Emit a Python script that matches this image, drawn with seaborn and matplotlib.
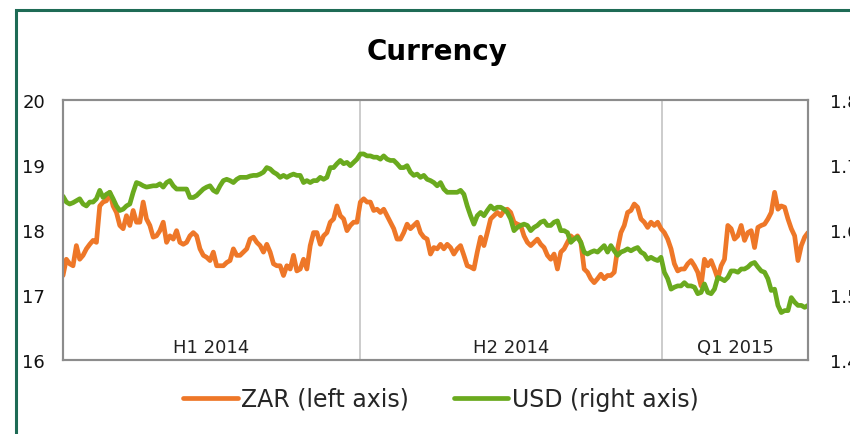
import pandas as pd
import seaborn as sns
import matplotlib.pyplot as plt
import matplotlib.patches as patches
import matplotlib.transforms as mtransforms
import matplotlib.ticker as ticker

# values, roughly every two days from Jan 2014 to end of Mar 2015
zar = [
    17.30, 17.55, 17.48, 17.45, 17.76, 17.55, 17.61, 17.71, 17.78, 17.84,
    17.81, 18.37, 18.43, 18.45, 18.58, 18.37, 18.27, 18.07, 18.02, 18.22,
    18.07, 18.30, 18.12, 18.12, 18.43, 18.17, 18.07, 17.89, 17.91, 17.99,
    18.12, 17.81, 17.91, 17.86, 17.99, 17.81, 17.78, 17.81, 17.91, 17.96,
    17.91, 17.71, 17.61, 17.58, 17.53, 17.66, 17.45, 17.45, 17.45, 17.50,
    17.53, 17.71, 17.61, 17.61, 17.66, 17.71, 17.86, 17.89, 17.81, 17.76,
    17.66, 17.78, 17.66, 17.48, 17.45,
    17.45, 17.30, 17.45, 17.40, 17.61, 17.37, 17.40, 17.55, 17.40, 17.76,
    17.96, 17.96, 17.78, 17.91, 17.96, 18.12, 18.17, 18.37, 18.22, 18.17,
    17.99, 18.07, 18.12, 18.12, 18.43, 18.48, 18.43, 18.43, 18.30, 18.32,
    18.27, 18.32, 18.22, 18.12, 18.02, 17.86, 17.86, 17.96, 18.09, 18.02,
    18.07, 18.12, 17.96, 17.89, 17.86, 17.63, 17.73, 17.71, 17.78, 17.71,
    17.78, 17.73, 17.63, 17.71, 17.76, 17.61, 17.45, 17.43, 17.40, 17.66,
    17.89, 17.76, 17.96, 18.17, 18.22, 18.27, 18.22, 18.30, 18.32, 18.27,
    18.12, 18.09, 18.07, 17.91, 17.81, 17.76, 17.81, 17.86, 17.78, 17.73,
    17.61, 17.55, 17.63, 17.40,
    17.66, 17.71, 17.81, 17.91, 17.86, 17.91, 17.81, 17.40, 17.35, 17.25,
    17.19, 17.25, 17.32, 17.25, 17.30, 17.30, 17.35, 17.71, 17.96, 18.07,
    18.27, 18.30, 18.40, 18.35, 18.17, 18.12, 18.04, 18.12, 18.07, 18.12,
    18.02, 17.96, 17.86, 17.71, 17.48, 17.37, 17.40, 17.40, 17.48, 17.53,
    17.45, 17.35, 17.14, 17.55, 17.45, 17.53, 17.40, 17.25, 17.45, 17.55,
    18.07, 18.02, 17.86, 17.91, 18.07, 17.84, 17.96, 17.99, 17.73, 18.04,
    18.07, 18.09, 18.17, 18.27, 18.58, 18.32, 18.37, 18.35, 18.17, 18.02,
    17.91, 17.53, 17.76, 17.89, 17.96,
]

usd = [
    1.652, 1.643, 1.640, 1.642, 1.645, 1.648, 1.640, 1.637, 1.643, 1.643,
    1.648, 1.661, 1.650, 1.655, 1.658, 1.648, 1.637, 1.630, 1.632, 1.637,
    1.640, 1.658, 1.673, 1.671, 1.668, 1.666, 1.667, 1.668, 1.668, 1.671,
    1.666, 1.673, 1.676, 1.668, 1.663, 1.663, 1.663, 1.663, 1.650, 1.650,
    1.653, 1.658, 1.663, 1.666, 1.668, 1.661, 1.658, 1.668, 1.676, 1.678,
    1.676, 1.673, 1.678, 1.681, 1.681, 1.681, 1.683, 1.684, 1.684, 1.686,
    1.689, 1.696, 1.694, 1.689, 1.686,
    1.681, 1.684, 1.681, 1.684, 1.686, 1.684, 1.684, 1.673, 1.676, 1.673,
    1.676, 1.676, 1.681, 1.678, 1.681, 1.696, 1.696, 1.702, 1.707, 1.702,
    1.704, 1.699, 1.704, 1.709, 1.717, 1.717, 1.714, 1.714, 1.712, 1.712,
    1.709, 1.714, 1.709, 1.707, 1.707, 1.702, 1.696, 1.696, 1.699, 1.689,
    1.684, 1.686, 1.681, 1.684, 1.678, 1.676, 1.673, 1.668, 1.673, 1.663,
    1.658, 1.658, 1.658, 1.658, 1.661, 1.655, 1.637, 1.622, 1.609, 1.622,
    1.627, 1.622, 1.630, 1.637, 1.632, 1.635, 1.635, 1.632, 1.627, 1.617,
    1.599, 1.604, 1.607, 1.609, 1.607, 1.599, 1.604, 1.607, 1.612, 1.614,
    1.607, 1.607, 1.612, 1.614,
    1.599, 1.599, 1.596, 1.581, 1.586, 1.589, 1.581, 1.566, 1.563, 1.566,
    1.568, 1.566, 1.571, 1.576, 1.566, 1.576, 1.568, 1.561, 1.566, 1.568,
    1.571, 1.568, 1.571, 1.573, 1.566, 1.563, 1.555, 1.558, 1.555, 1.553,
    1.558, 1.535, 1.525, 1.509, 1.512, 1.514, 1.514, 1.519, 1.514, 1.514,
    1.512, 1.502, 1.504, 1.517, 1.504, 1.502, 1.509, 1.527, 1.525, 1.522,
    1.527, 1.537, 1.537, 1.535, 1.540, 1.540, 1.543, 1.548, 1.550, 1.543,
    1.537, 1.535, 1.525, 1.507, 1.509, 1.484, 1.473, 1.476, 1.476, 1.496,
    1.489, 1.484, 1.484, 1.481, 1.484,
]

period_labels = ["H1 2014", "H2 2014", "Q1 2015"]
period_bounds = ["2014-01-01", "2014-07-01", "2015-01-01", "2015-03-31"]

ORANGE = "#ee7728"
GREEN = "#6aaa1e"
FRAME = "#1e6b55"
SPINE = "#8c8c8c"

df = pd.DataFrame({
    "date": pd.date_range("2014-01-01", "2015-03-31", periods=len(zar)),
    "ZAR": zar,
    "USD": usd,
})

sns.set_style("white")
plt.rcParams["font.family"] = ["DejaVu Sans"]

fig = plt.figure(figsize=(8.5, 4.35), dpi=100)
ax = fig.add_axes([63 / 850, 1 - 361 / 435, 745 / 850, 260 / 435])
ax2 = ax.twinx()

sns.lineplot(data=df, x="date", y="ZAR", ax=ax, color=ORANGE, lw=3.4,
             label="ZAR (left axis)", legend=False)
sns.lineplot(data=df, x="date", y="USD", ax=ax2, color=GREEN, lw=3.4,
             label="USD (right axis)", legend=False)

bounds = pd.to_datetime(period_bounds)
ax.set_xlim(bounds[0], bounds[-1])
ax.set_ylim(16, 20)
ax2.set_ylim(1.4, 1.8)
ax.yaxis.set_major_locator(ticker.MultipleLocator(1))
ax2.yaxis.set_major_locator(ticker.MultipleLocator(0.1))
ax2.yaxis.set_major_formatter(ticker.FormatStrFormatter("%.1f"))

for b in bounds[1:-1]:
    ax.axvline(b, color="#c4c4c4", lw=1.2, zorder=0)

trans = mtransforms.blended_transform_factory(ax.transData, ax.transAxes)
for lab, a, b in zip(period_labels, bounds[:-1], bounds[1:]):
    ax.text(a + (b - a) / 2, 0.05, lab, transform=trans, ha="center",
            va="center", fontsize=13, color="#222222")

ax.set_xticks([])
ax.set_xlabel("")
ax.set_ylabel("")
ax2.set_ylabel("")
ax.tick_params(axis="y", length=0, pad=13, labelsize=13, labelcolor="#111111")
ax2.tick_params(axis="y", length=0, pad=16, labelsize=13, labelcolor="#111111")
for a in (ax, ax2):
    for s in a.spines.values():
        s.set_color(SPINE)
        s.set_linewidth(1.5)

fig.text(437 / 850, 1 - 52 / 435, "Currency", ha="center", va="center",
         fontsize=20, fontweight="bold", color="black")

h1, l1 = ax.get_legend_handles_labels()
h2, l2 = ax2.get_legend_handles_labels()
fig.legend(h1 + h2, l1 + l2, loc="center", bbox_to_anchor=(441 / 850, 1 - 400 / 435),
           ncol=2, frameon=False, fontsize=17, handlelength=2.3,
           handletextpad=0.15, columnspacing=1.9)

fig.add_artist(patches.Rectangle((16 / 850, -0.1), 1.0, 1.1 - 11 / 435,
                                 transform=fig.transFigure, fill=False,
                                 edgecolor=FRAME, lw=2.2))

fig.savefig("out.png", dpi=100)
